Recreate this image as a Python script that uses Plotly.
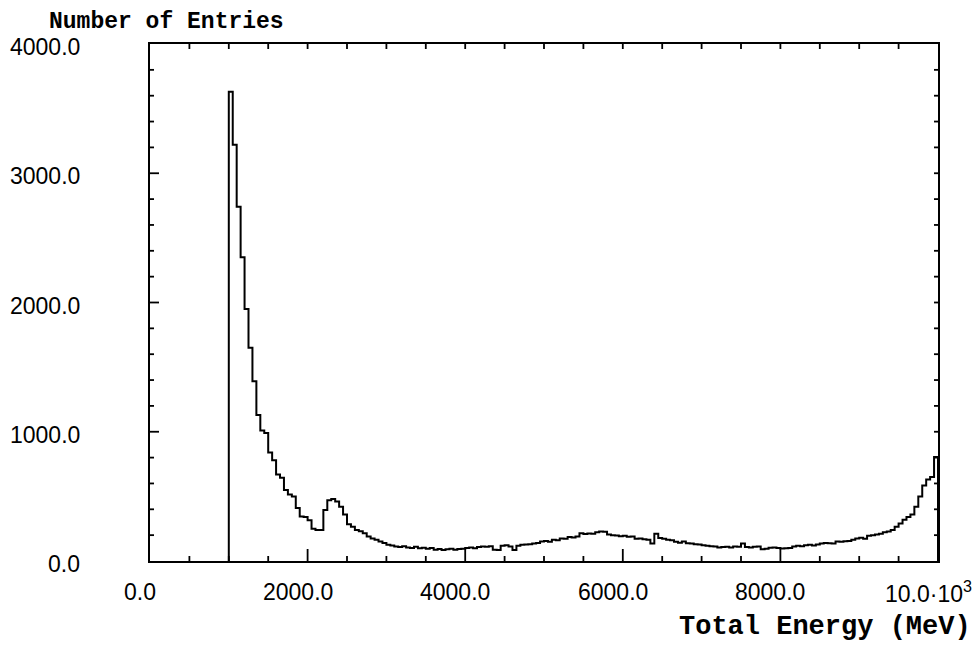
import plotly.graph_objects as go

# Histogram: first bin low edge, bin width (MeV), and counts per bin
bin_start = 1000
bin_width = 50
counts = [
    3630, 3220, 2740, 2350, 1950, 1650, 1390, 1130, 1010, 990,
    840, 780, 670, 645, 550, 515, 500, 410, 345, 340,
    315, 250, 240, 240, 395, 470, 480, 460, 420, 360,
    285, 265, 240, 230, 215, 190, 175, 165, 150, 140,
    125, 120, 112, 108, 115, 105, 100, 110, 98, 102,
    95, 100, 88, 92, 85, 90, 95, 88, 92, 95,
    100, 105, 98, 108, 112, 110, 115, 88, 86, 118,
    122, 112, 86, 118, 125, 128, 130, 135, 140, 150,
    155, 148, 165, 160, 175, 172, 185, 182, 190, 215,
    208, 212, 210, 222, 228, 226, 205, 200, 198, 192,
    195, 188, 190, 172, 175, 168, 165, 135, 210, 178,
    172, 165, 160, 148, 142, 150, 138, 135, 130, 128,
    122, 118, 115, 112, 105, 108, 110, 104, 112, 110,
    135, 108, 105, 110, 112, 90, 95, 102, 105, 100,
    96, 98, 100, 112, 118, 115, 122, 125, 120, 128,
    135, 140, 138, 135, 150, 148, 152, 155, 165, 175,
    180, 172, 195, 200, 205, 210, 222, 228, 240, 265,
    290, 320, 340, 360, 420, 500, 585, 630, 650, 805,
]

x_range = [0, 10000]
y_range = [0, 4000]
x_tickvals = [0, 2000, 4000, 6000, 8000, 10000]
x_ticktext = ["0.0", "2000.0", "4000.0", "6000.0", "8000.0", "10.0·10<sup>3</sup>"]
x_minor_step = 500
y_tickvals = [0, 1000, 2000, 3000, 4000]
y_ticktext = ["0.0", "1000.0", "2000.0", "3000.0", "4000.0"]
y_minor_step = 200

x_title = "Total Energy (MeV)"
y_title = "Number of Entries"

W, H = 980, 645
M = dict(l=150, r=42, t=44, b=84)
plot_w = W - M["l"] - M["r"]
plot_h = H - M["t"] - M["b"]
xpx = (x_range[1] - x_range[0]) / plot_w   # data units per pixel
ypx = (y_range[1] - y_range[0]) / plot_h

edges = [bin_start + bin_width * i for i in range(len(counts) + 1)]
xs = [edges[0]] + edges + [edges[-1]]
ys = [0] + counts + [counts[-1], 0]

fig = go.Figure()
fig.add_trace(go.Scatter(
    x=xs, y=ys, mode="lines", line=dict(color="black", width=2, shape="hv"),
    hoverinfo="skip", showlegend=False,
))

# inward tick marks on all four sides, drawn as one line trace
tx, ty = [], []
x_minor = [v for v in range(x_range[0], x_range[1] + 1, x_minor_step) if v not in x_tickvals]
y_minor = [v for v in range(y_range[0], y_range[1] + 1, y_minor_step) if v not in y_tickvals]
for v in x_tickvals[1:-1] + x_minor:
    blen = 12 if v in x_tickvals else 5
    tx += [v, v, None, v, v, None]
    ty += [y_range[0], y_range[0] + blen * ypx, None, y_range[1], y_range[1] - 5 * ypx, None]
for v in y_tickvals[1:-1] + y_minor:
    llen = 9 if v in y_tickvals else 4
    tx += [x_range[0], x_range[0] + llen * xpx, None, x_range[1] + 2 * xpx, x_range[1] - 4 * xpx, None]
    ty += [v, v, None, v, v, None]
fig.add_trace(go.Scatter(
    x=tx, y=ty, mode="lines", line=dict(color="black", width=1.8),
    hoverinfo="skip", showlegend=False, cliponaxis=False,
))

num_font = dict(family="Liberation Sans", size=23, color="black")
title_font = "Liberation Mono"

x_label_annots = [
    dict(text=t, x=v, xref="x", yref="paper", y=-0.06, xanchor="center", yanchor="middle",
         xshift=-10, showarrow=False, font=num_font)
    for v, t in zip(x_tickvals, x_ticktext)
]
y_label_annots = [
    dict(text=t, y=v, yref="y", xref="paper", x=-0.0863, xanchor="right", yanchor="middle",
         yshift=-3, showarrow=False, font=num_font)
    for v, t in zip(y_tickvals, y_ticktext)
]

fig.update_layout(
    width=W, height=H,
    margin=M,
    paper_bgcolor="white", plot_bgcolor="white",
    xaxis=dict(
        range=x_range, showgrid=False, zeroline=False,
        showline=True, linecolor="black", linewidth=2, mirror=True,
        ticks="", showticklabels=False,
    ),
    yaxis=dict(
        range=y_range, showgrid=False, zeroline=False,
        showline=True, linecolor="black", linewidth=2, mirror=True,
        ticks="", showticklabels=False,
    ),
    annotations=x_label_annots + y_label_annots + [
        dict(text=y_title, xref="paper", yref="paper", x=-0.1307, y=1.0425,
             xanchor="left", yanchor="middle", showarrow=False,
             font=dict(family=title_font, size=23, color="black", weight="bold")),
        dict(text=x_title, xref="paper", yref="paper", x=1.045, y=-0.128,
             xanchor="right", yanchor="middle", showarrow=False,
             font=dict(family=title_font, size=27, color="black", weight="bold")),
    ],
)

fig.write_html("out.html")
